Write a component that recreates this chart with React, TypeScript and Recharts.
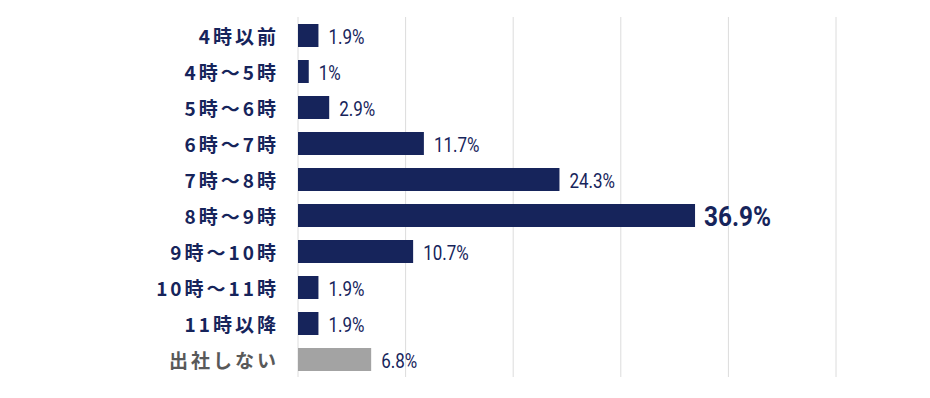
import { BarChart, Bar, XAxis, YAxis, CartesianGrid, Cell, LabelList } from "recharts";

const categories = ["4時以前", "4時～5時", "5時～6時", "6時～7時", "7時～8時", "8時～9時", "9時～10時", "10時～11時", "11時以降", "出社しない"];
const values = [1.9, 1, 2.9, 11.7, 24.3, 36.9, 10.7, 1.9, 1.9, 6.8];
const xTicks = [0, 10, 20, 30, 40, 50];

const NAVY = "#16245b";
const GRAY_BAR = "#a3a3a3";
const GRAY_TEXT = "#595959";

const data = categories.map((name, i) => ({ name, value: values[i] }));
const maxValue = Math.max(...values);

const CategoryTick = (props: any) => {
  const { x, y, payload } = props;
  const isLast = payload.value === categories[categories.length - 1];
  return (
    <text
      x={x + 3}
      y={y}
      textAnchor="end"
      dominantBaseline="central"
      fill={isLast ? GRAY_TEXT : NAVY}
      fontSize={19}
      fontWeight={700}
      letterSpacing={3}
      fontFamily="'Noto Sans CJK JP', 'Noto Sans', sans-serif"
    >
      {payload.value}
    </text>
  );
};

// condensed look: squeeze Roboto horizontally
const ValueLabel = (props: any) => {
  const { x, y, width, height, value } = props;
  const isMax = value === maxValue;
  const tx = x + width + (isMax ? 9 : 10);
  const ty = y + height / 2 + (isMax ? 1 : 2);
  return (
    <text
      transform={`translate(${tx},${ty}) scale(${isMax ? 0.87 : 0.85},1)`}
      x={0}
      y={0}
      dominantBaseline="central"
      fill={NAVY}
      fontSize={isMax ? 28 : 20}
      fontWeight={isMax ? 700 : 400}
      fontFamily="Roboto, 'DejaVu Sans', sans-serif"
    >
      {value}%
    </text>
  );
};

export default function App() {
  return (
    <div style={{ position: "absolute", left: 0, top: 0, background: "#fff" }}>
      <BarChart
        width={930}
        height={398}
        data={data}
        layout="vertical"
        margin={{ top: 17, right: 94, bottom: 21, left: 0 }}
        barCategoryGap={0}
      >
        <CartesianGrid horizontal={false} stroke="#dcdcdc" />
        <XAxis type="number" domain={[0, 50]} ticks={xTicks} hide />
        <YAxis
          type="category"
          dataKey="name"
          width={298}
          axisLine={false}
          tickLine={false}
          tickSize={0}
          tickMargin={22}
          tick={<CategoryTick />}
          interval={0}
        />
        <Bar dataKey="value" barSize={23} isAnimationActive={false}>
          {data.map((d, i) => (
            <Cell key={d.name} fill={i === data.length - 1 ? GRAY_BAR : NAVY} />
          ))}
          <LabelList dataKey="value" content={<ValueLabel />} />
        </Bar>
      </BarChart>
    </div>
  );
}
